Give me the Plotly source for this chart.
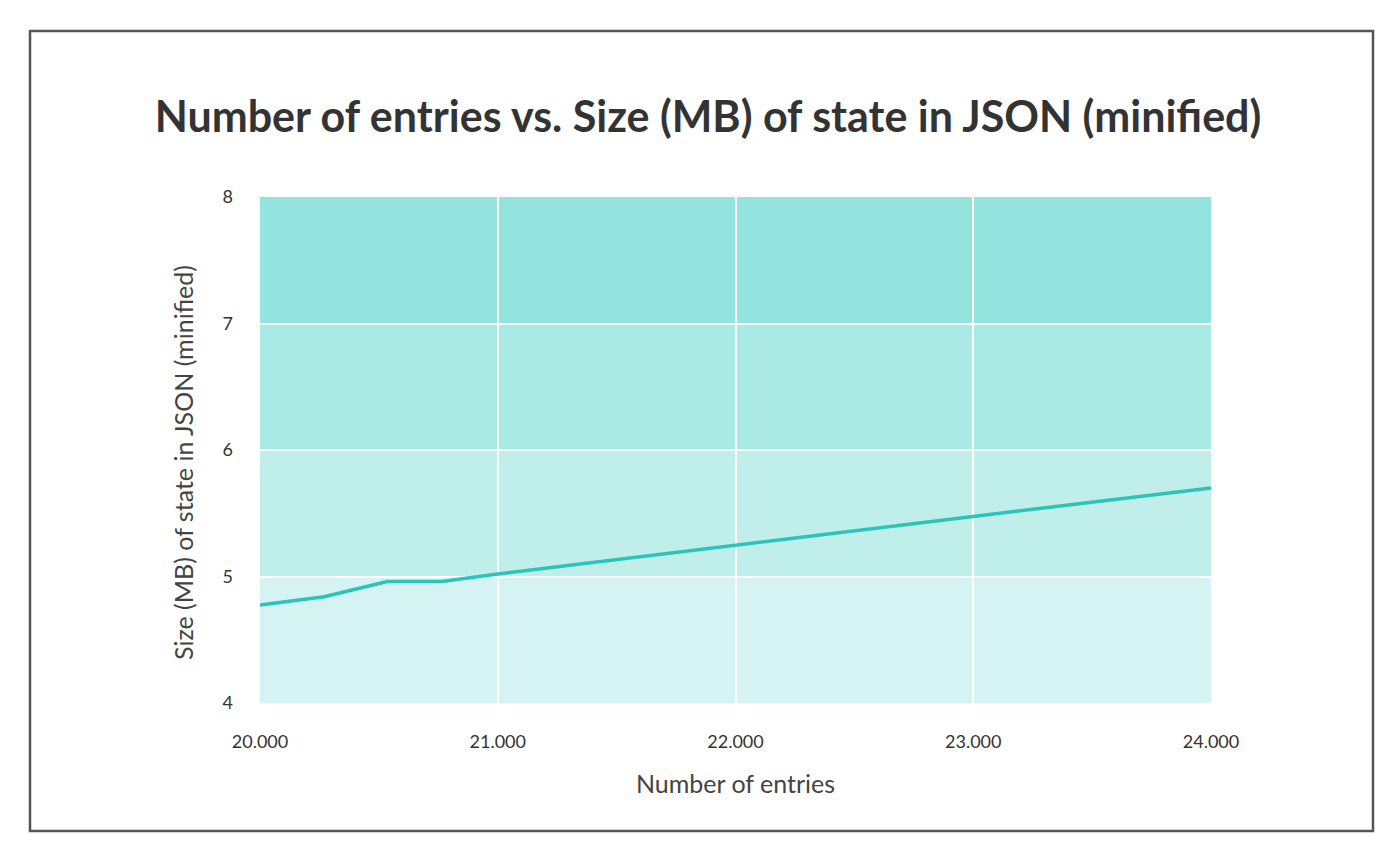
import plotly.graph_objects as go

entries = [20000, 20270, 20535, 20765, 21000, 22000, 23000, 24000]
size_mb = [4.775, 4.84, 4.96, 4.96, 5.02, 5.25, 5.475, 5.70]
band_edges = [4, 5, 6, 7, 8]
band_colors = ["#d5f3f2", "#bfeeeb", "#a9eae5", "#93e3df"]
x_ticks = [20000, 21000, 22000, 23000, 24000]
y_ticks = [4, 5, 6, 7, 8]

# page body has an 8px offset; figure coords = screen coords - 8
L, T, R, B = 252, 189, 1203, 695
PW, PH = R - L, B - T

fig = go.Figure()
fig.add_trace(go.Scatter(x=entries, y=size_mb, mode="lines",
                         line=dict(color="#2cc4b8", width=3.5), hoverinfo="x+y"))

shapes = []
for i, c in enumerate(band_colors):
    shapes.append(dict(type="rect", xref="x", yref="y", x0=x_ticks[0], x1=x_ticks[-1],
                       y0=band_edges[i], y1=band_edges[i + 1], fillcolor=c,
                       line=dict(width=0), layer="below"))
shapes.append(dict(type="rect", xref="paper", yref="paper",
                   x0=(22 - L) / PW, x1=(1365 - L) / PW, y0=(B - 823) / PH, y1=(B - 23) / PH,
                   line=dict(color="#555555", width=2.5), fillcolor="rgba(0,0,0,0)", layer="above"))

fig.update_layout(
    width=1400, height=863,
    margin=dict(l=L, r=1400 - R, t=T, b=863 - B),
    paper_bgcolor="white", plot_bgcolor="white",
    separators=",.",
    showlegend=False,
    shapes=shapes,
    font=dict(family="Lato", color="#333333"),
    title=dict(text="<b>Number of entries vs. Size (MB) of state in JSON (minified)</b>",
               x=0.5, xanchor="center", y=1 - 109 / 863, yanchor="middle",
               font=dict(family="Lato", size=43, color="#333333")),
    xaxis=dict(range=[20000, 24000], tickvals=x_ticks, tickformat=",d",
               showgrid=True, gridcolor="white", gridwidth=1.5, zeroline=False,
               showline=False, ticks="", tickfont=dict(size=18, color="#333333"),
               ticklabelstandoff=26,
               title=dict(text="Number of entries", font=dict(size=25, color="#444444"), standoff=24)),
    yaxis=dict(range=[4, 8], tickvals=y_ticks, showgrid=True, gridcolor="white", gridwidth=1.5,
               zeroline=False, showline=False, ticks="", tickfont=dict(size=18, color="#333333"),
               ticklabelstandoff=26),
    annotations=[dict(text="Size (MB) of state in JSON (minified)", xref="paper", yref="paper",
                      x=(175 - L) / PW, y=(B - 455) / PH, xanchor="center", yanchor="middle",
                      textangle=-90, showarrow=False,
                      font=dict(family="Lato", size=25, color="#444444"))],
)
fig.write_html("out.html")
